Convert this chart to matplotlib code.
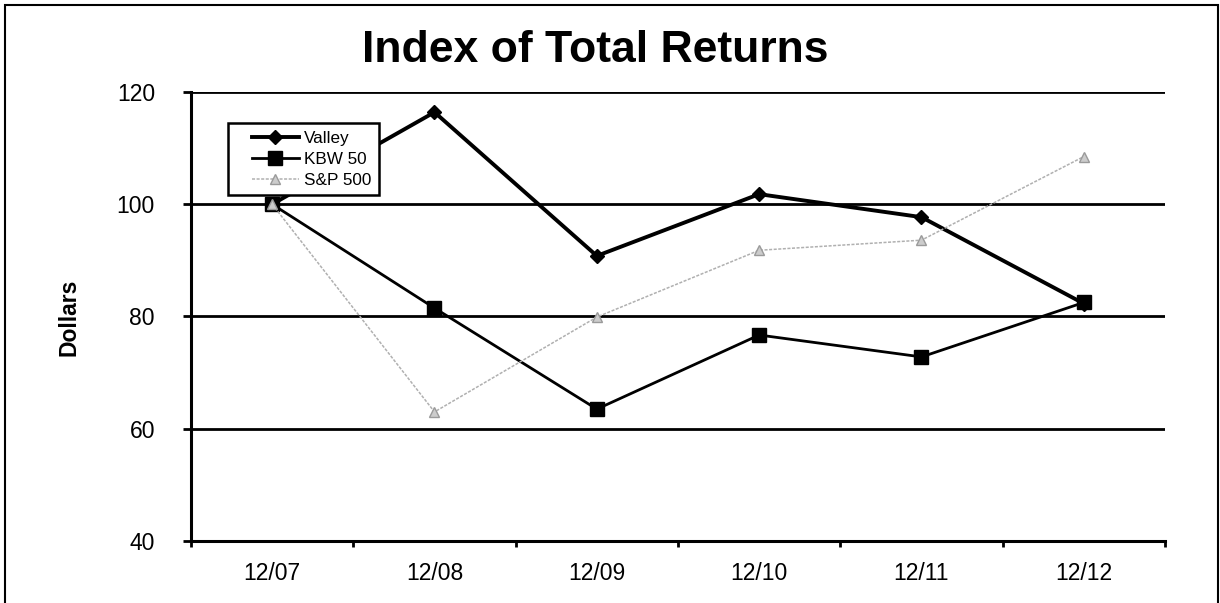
import numpy as np
from matplotlib import pyplot as plt
from matplotlib.patches import Rectangle
from matplotlib.legend_handler import HandlerLine2D

plt.rcParams['font.family'] = ['Liberation Sans', 'DejaVu Sans']

# Datos
fechas = ['12/07', '12/08', '12/09', '12/10', '12/11', '12/12']
valley = [100, 116.4, 90.8, 101.8, 97.7, 82.3]
kbw50 = [100, 81.5, 63.5, 76.7, 72.8, 82.5]
sp500 = [100, 63.0, 79.9, 91.8, 93.6, 108.5]

W, H = 1220, 603
fig = plt.figure(figsize=(W / 100, H / 100), dpi=100)
ax = fig.add_axes([191 / W, 1 - 541 / H, (1165 - 191) / W, (541 - 92) / H])

x = np.arange(len(fechas))
l1, = ax.plot(x, valley, color='black', lw=2.8, marker='D', markersize=7, label='Valley', zorder=3)
l2, = ax.plot(x, kbw50, color='black', lw=2.0, marker='s', markersize=10, label='KBW 50', zorder=3)
l3, = ax.plot(x, sp500, color='#b0b0b0', lw=1.1, ls=(0, (2, 1)), marker='^', markersize=7,
              markerfacecolor='#cccccc', markeredgecolor='#9a9a9a', label='S&P 500', zorder=4)

ax.set_xlim(-0.5, len(fechas) - 0.5)
ax.set_ylim(40, 120)

# Ejes estilo Excel
ax.set_yticks([40, 60, 80, 100, 120])
ax.yaxis.grid(True, color='black', lw=2.0, zorder=1)
ax.set_axisbelow(True)
ax.tick_params(axis='y', direction='out', length=6, width=2.0, pad=20, labelsize=16.5)

ax.set_xticks(np.arange(-0.5, len(fechas)), labels=[])
ax.set_xticks(x, labels=fechas, minor=True)
ax.tick_params(axis='x', which='major', direction='out', length=4.5, width=2.0)
ax.tick_params(axis='x', which='minor', length=0, pad=15, labelsize=16.5)

for s in ['top', 'right']:
    ax.spines[s].set_visible(False)
for s in ['left', 'bottom']:
    ax.spines[s].set_linewidth(2.2)

hm = {l: HandlerLine2D(xpad=0.95) for l in (l1, l2, l3)}
leg = ax.legend(handler_map=hm, loc='upper left', bbox_to_anchor=(0.038, 0.931), borderaxespad=0,
                fancybox=False, edgecolor='black', fontsize=12.3, handlelength=3.7,
                handletextpad=0.3, labelspacing=0.35, borderpad=0.45, framealpha=1)
leg.get_frame().set_linewidth(1.8)

fig.text(595 / W, 1 - 62 / H, 'Index of Total Returns', fontsize=32, fontweight='bold',
         ha='center', va='baseline')
fig.text(69 / W, 1 - 317 / H, 'Dollars', fontsize=16.5, fontweight='bold',
         rotation=90, ha='center', va='center')

# Marco exterior
fig.add_artist(Rectangle((5 / W, -0.05), (1218 - 5) / W, 1.05 - 5 / H,
                         transform=fig.transFigure, fill=False, lw=1.5, color='black'))

fig.savefig('out.png', dpi=100)
